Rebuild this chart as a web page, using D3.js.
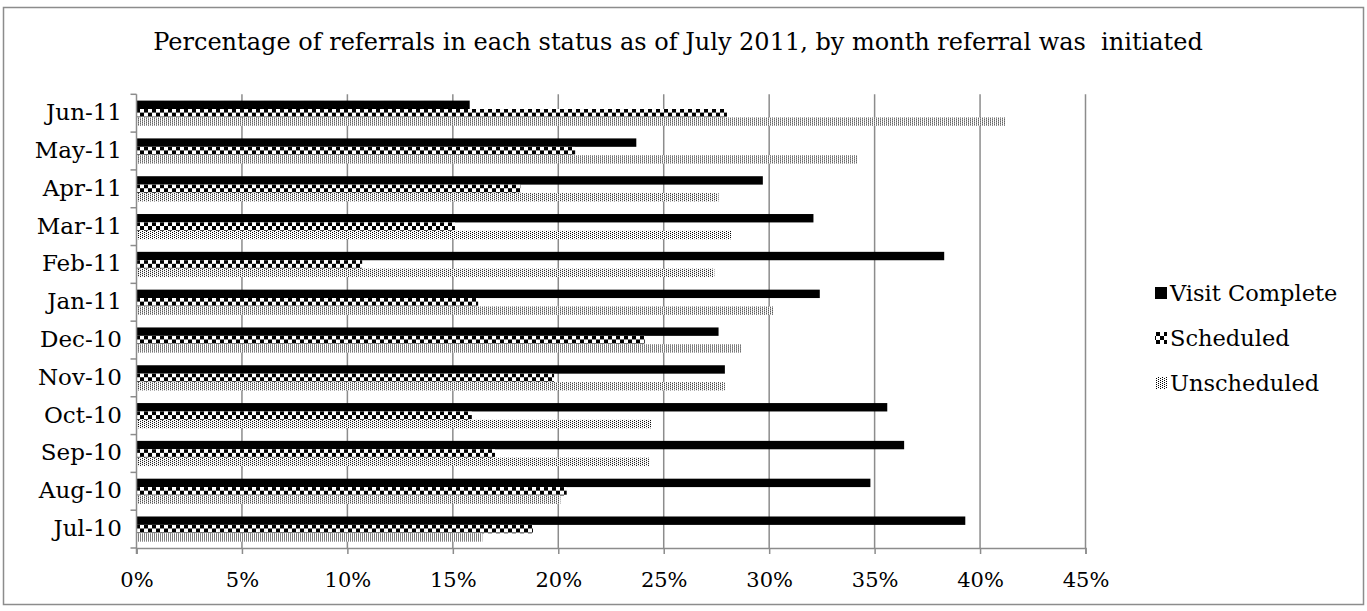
<!DOCTYPE html>
<html>
<head>
<meta charset="utf-8">
<script src="https://cdn.jsdelivr.net/npm/d3@7"></script>
<style>
  html, body { margin: 0; padding: 0; background: #fff; }
  svg { display: block; }
  text { font-family: "DejaVu Serif", "Liberation Serif", serif; fill: #000; }
</style>
</head>
<body>
<svg id="chart" width="1367" height="611"></svg>
<script>
// Referral months, listed top to bottom
const months = ["Jun-11", "May-11", "Apr-11", "Mar-11", "Feb-11", "Jan-11",
                "Dec-10", "Nov-10", "Oct-10", "Sep-10", "Aug-10", "Jul-10"];
const seriesNames = ["Visit Complete", "Scheduled", "Unscheduled"];

// Percent of referrals in each status
const visitComplete = [15.8, 23.7, 29.7, 32.1, 38.3, 32.4, 27.6, 27.9, 35.6, 36.4, 34.8, 39.3];
const scheduled     = [28.0, 20.8, 18.2, 15.1, 10.7, 16.2, 24.1, 19.8, 15.9, 17.0, 20.4, 18.8];
const unscheduled   = [41.2, 34.2, 27.6, 28.2, 27.4, 30.2, 28.7, 27.9, 24.4, 24.3, 20.1, 16.4];

const xTicks = [0, 5, 10, 15, 20, 25, 30, 35, 40, 45];
const titleText = "Percentage of referrals in each status as of July 2011, by month referral was  initiated";

const seriesValues = [visitComplete, scheduled, unscheduled];

const svg = d3.select("#chart");
const plot = { left: 136.5, right: 1085.5, top: 94.3, bottom: 548 };
const gridColor = "#8c8c8c";

// Fill patterns: solid, checkerboard, dotted
const defs = svg.append("defs");
const checker = defs.append("pattern")
  .attr("id", "pat-checker").attr("patternUnits", "userSpaceOnUse")
  .attr("width", 8).attr("height", 8);
checker.append("rect").attr("width", 8).attr("height", 8).attr("fill", "#fff");
checker.append("rect").attr("x", 0).attr("y", 0).attr("width", 4).attr("height", 4).attr("fill", "#000");
checker.append("rect").attr("x", 4).attr("y", 4).attr("width", 4).attr("height", 4).attr("fill", "#000");

const dots = defs.append("pattern")
  .attr("id", "pat-dots").attr("patternUnits", "userSpaceOnUse")
  .attr("width", 4).attr("height", 4);
dots.append("rect").attr("width", 4).attr("height", 4).attr("fill", "#fff");
[[0, 0], [2, 1], [0, 2], [2, 3]].forEach(([dx, dy]) => {
  dots.append("rect").attr("x", dx).attr("y", dy).attr("width", 1).attr("height", 1).attr("fill", "#000");
});

const fills = ["#000", "url(#pat-checker)", "url(#pat-dots)"];

// Outer chart frame
svg.append("rect")
  .attr("x", 3.5).attr("y", 7.5).attr("width", 1360).attr("height", 597)
  .attr("fill", "#fff").attr("stroke", gridColor).attr("stroke-width", 1.5);

// Scales
const x = d3.scaleLinear().domain([0, 45]).range([plot.left, plot.right]);
const y = d3.scaleBand().domain(months).range([plot.top, plot.bottom])
  .paddingInner(1 / 3).paddingOuter(1 / 6);
const ySub = d3.scaleBand().domain(seriesNames).range([0, y.bandwidth()]);

// Vertical gridlines
svg.append("g")
  .selectAll("line")
  .data(xTicks.filter(d => d > 0))
  .join("line")
  .attr("x1", d => x(d)).attr("x2", d => x(d))
  .attr("y1", plot.top).attr("y2", plot.bottom)
  .attr("stroke", gridColor).attr("stroke-width", 1.5);

// Bars
const rows = months.map((m, i) => ({ month: m, values: seriesValues.map(s => s[i]) }));
const groups = svg.append("g").selectAll("g")
  .data(rows).join("g")
  .attr("transform", d => `translate(0,${y(d.month)})`);
groups.selectAll("rect")
  .data(d => d.values.map((v, k) => ({ name: seriesNames[k], value: v, k })))
  .join("rect")
  .attr("x", x(0))
  .attr("y", d => ySub(d.name))
  .attr("width", d => x(d.value) - x(0))
  .attr("height", ySub.bandwidth())
  .attr("fill", d => fills[d.k]);

// Category axis: line plus ticks on band boundaries
const step = y.step();
const boundaries = d3.range(months.length + 1).map(i => plot.top + i * step);
const yAxis = svg.append("g");
yAxis.append("line")
  .attr("x1", x(0)).attr("x2", x(0)).attr("y1", plot.top).attr("y2", plot.bottom + 6)
  .attr("stroke", gridColor).attr("stroke-width", 1.5);
yAxis.selectAll("line.tick")
  .data(boundaries).join("line").attr("class", "tick")
  .attr("x1", x(0) - 6).attr("x2", x(0))
  .attr("y1", d => d).attr("y2", d => d)
  .attr("stroke", gridColor).attr("stroke-width", 1.5);
yAxis.selectAll("text")
  .data(months).join("text")
  .attr("x", 122)
  .attr("y", d => y(d) + y.bandwidth() / 2 - 1)
  .attr("text-anchor", "end")
  .attr("dominant-baseline", "central")
  .style("font-size", "23px")
  .text(d => d);

// Value axis
const xAxis = svg.append("g")
  .attr("transform", `translate(0,${plot.bottom})`)
  .call(d3.axisBottom(x).tickValues(xTicks).tickFormat(d => d + "%").tickSize(6).tickPadding(18));
xAxis.select(".domain").attr("stroke", gridColor).attr("stroke-width", 1.5);
xAxis.selectAll(".tick line").attr("stroke", gridColor).attr("stroke-width", 1.5);
xAxis.selectAll(".tick text")
  .style("font-family", "'DejaVu Serif', serif")
  .style("font-size", "21px")
  .attr("fill", "#000");

// Title
svg.append("text")
  .attr("x", 678).attr("y", 42)
  .attr("text-anchor", "middle")
  .attr("dominant-baseline", "central")
  .style("font-size", "24px")
  .attr("xml:space", "preserve")
  .text(titleText);

// Legend
const legend = svg.append("g");
const legendY = [293, 338, 383];
seriesNames.forEach((name, k) => {
  legend.append("rect")
    .attr("x", 1155).attr("y", legendY[k] - 6).attr("width", 12).attr("height", 12)
    .attr("fill", fills[k]);
  legend.append("text")
    .attr("x", 1170).attr("y", legendY[k])
    .attr("dominant-baseline", "central")
    .style("font-size", "22.5px")
    .text(name);
});
</script>
</body>
</html>
